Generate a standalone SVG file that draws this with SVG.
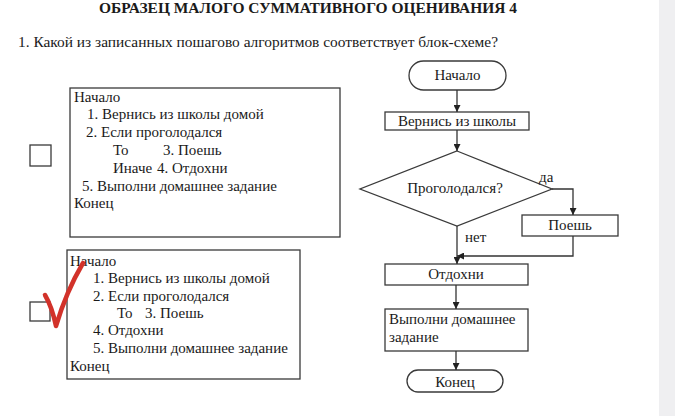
<svg xmlns="http://www.w3.org/2000/svg" width="675" height="416" viewBox="0 0 675 416">
<defs>
<style>
text{font-family:"Liberation Serif","DejaVu Serif",serif;font-size:15px;fill:#1a1a1a}
.box{fill:#fff;stroke:#3a3a3a;stroke-width:1.3}
.ln{fill:none;stroke:#333;stroke-width:1.3}
.c{text-anchor:middle}
</style>
<marker id="ah" viewBox="0 0 10 10" refX="10" refY="5" markerWidth="7" markerHeight="7" orient="auto" markerUnits="userSpaceOnUse">
<path d="M0,0 L10,5 L0,10 z" fill="#222"/>
</marker>
</defs>
<rect width="675" height="416" fill="#fff"/>
<rect x="659" y="0" width="16" height="416" fill="#efeff1"/>

<g id="header">
<text x="99" y="13" font-weight="bold" font-size="14" textLength="418" lengthAdjust="spacingAndGlyphs">ОБРАЗЕЦ МАЛОГО СУММАТИВНОГО ОЦЕНИВАНИЯ 4</text>
<text x="18" y="47" font-size="15" textLength="480" lengthAdjust="spacingAndGlyphs">1. Какой из записанных пошагово алгоритмов соответствует блок-схеме?</text>
</g>

<g id="option1">
<rect class="box" x="30" y="145" width="21" height="21"/>
<rect class="box" x="70" y="88" width="270" height="149"/>
<text x="74" y="102">Начало</text>
<text x="87" y="119">1. Вернись из школы домой</text>
<text x="86" y="137">2. Если проголодался</text>
<text x="113" y="155">То</text>
<text x="163" y="155">3. Поешь</text>
<text x="113" y="173">Иначе</text>
<text x="157" y="173">4. Отдохни</text>
<text x="82" y="191">5. Выполни домашнее задание</text>
<text x="74" y="208">Конец</text>
</g>

<g id="option2">
<rect class="box" x="30" y="302" width="20" height="19"/>
<rect class="box" x="67" y="250" width="233" height="129"/>
<text x="70" y="266">Начало</text>
<text x="93" y="283">1. Вернись из школы домой</text>
<text x="93" y="301">2. Если проголодался</text>
<text x="117" y="318">То</text>
<text x="145" y="318">3. Поешь</text>
<text x="93" y="335">4. Отдохни</text>
<text x="93" y="353">5. Выполни домашнее задание</text>
<text x="70" y="371">Конец</text>
</g>

<g id="check">
<path d="M45,295 Q52,307 56,326 Q66,292 83,263" fill="none" stroke="#d2322a" stroke-width="4.5" stroke-linecap="round" stroke-linejoin="round"/>
</g>

<g id="start">
<rect class="box" x="409" y="61" width="97" height="29" rx="14.5"/>
<text class="c" x="457.5" y="80">Начало</text>
</g>
<g id="return">
<rect class="box" x="385" y="112" width="144" height="18"/>
<text class="c" x="457" y="126">Вернись из школы</text>
</g>
<g id="decision">
<polygon class="box" points="457,151 552,189 457,226 360,189"/>
<text class="c" x="455" y="193">Проголодался?</text>
</g>
<g id="eat">
<rect class="box" x="522" y="215" width="96" height="21"/>
<text class="c" x="570" y="230">Поешь</text>
</g>
<g id="rest">
<rect class="box" x="385" y="264" width="143" height="21"/>
<text class="c" x="456" y="279">Отдохни</text>
</g>
<g id="homework">
<rect class="box" x="385" y="309" width="143" height="42"/>
<text x="389" y="324">Выполни домашнее</text>
<text x="389" y="342">задание</text>
</g>
<g id="end">
<rect class="box" x="407" y="370" width="96" height="22" rx="11"/>
<text class="c" x="455" y="387">Конец</text>
</g>

<g id="connectors">
<line class="ln" x1="457" y1="90" x2="457" y2="112" marker-end="url(#ah)"/>
<line class="ln" x1="457" y1="130" x2="457" y2="151" marker-end="url(#ah)"/>
<polyline class="ln" points="552,189 573,189 573,215" marker-end="url(#ah)"/>
<text x="539" y="182" font-size="13">да</text>
<line class="ln" x1="457" y1="226" x2="457" y2="264" marker-end="url(#ah)"/>
<text x="465" y="242" font-size="13">нет</text>
<polyline class="ln" points="573,236 573,256 457,256" marker-end="url(#ah)"/>
<line class="ln" x1="456" y1="285" x2="456" y2="309" marker-end="url(#ah)"/>
<line class="ln" x1="456" y1="351" x2="456" y2="370" marker-end="url(#ah)"/>
</g>
</svg>
